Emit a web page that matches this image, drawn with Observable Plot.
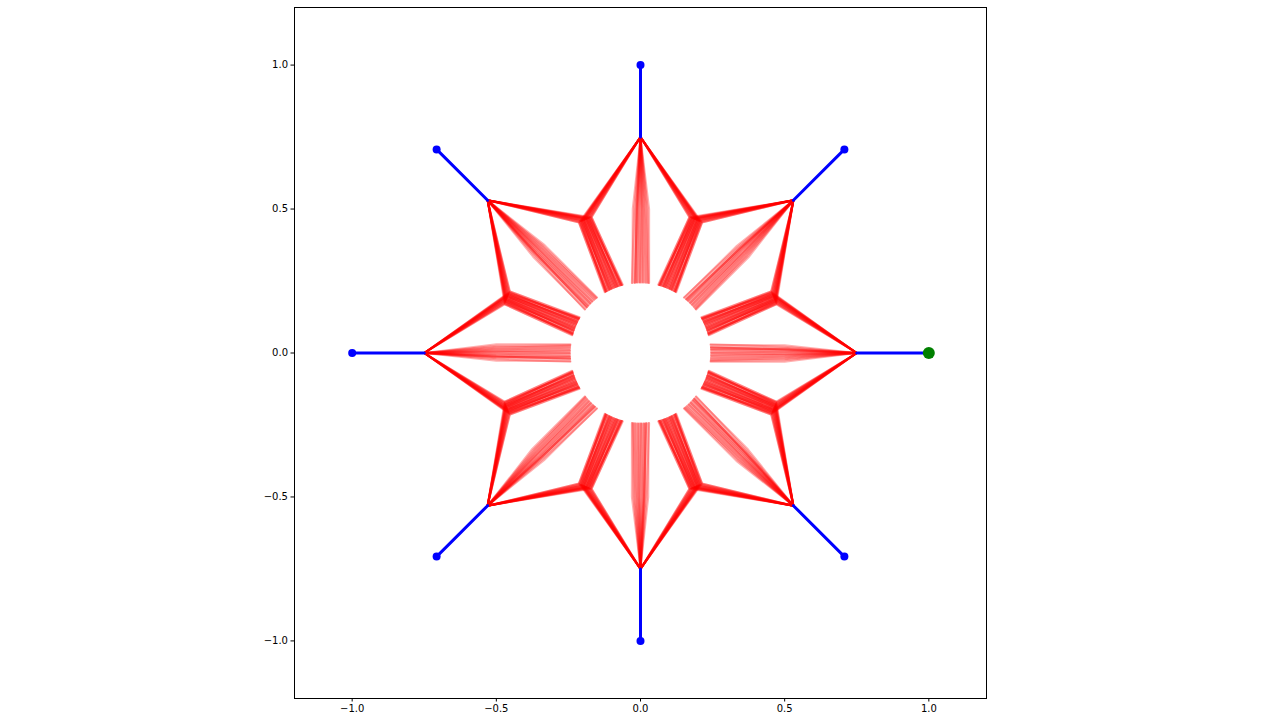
<!DOCTYPE html>
<html>
<head>
<meta charset="utf-8">
<script src="https://cdn.jsdelivr.net/npm/d3@7"></script>
<script src="https://cdn.jsdelivr.net/npm/@observablehq/plot@0.6"></script>
<style>
  html, body { margin: 0; padding: 0; background: white; }
  #chart { width: 1280px; height: 720px; }
</style>
</head>
<body>
<div id="chart"></div>
<script>
// ---- data ----
const anchorAngles = [0, 45, 90, 135, 180, 225, 270, 315];   // degrees
const rAnchor = 1.0;      // blue dots
const rOuter = 0.75;      // outer star vertices
const rMid = 0.5;         // inner star vertices
const rHole = 0.245;      // where trajectories end
const sideAngle = 22.5;   // angular offset of inner star vertices
const xTicks = [-1.0, -0.5, 0.0, 0.5, 1.0];
const yTicks = [-1.0, -0.5, 0.0, 0.5, 1.0];
const goal = {x: 1.0, y: 0.0};

// hand-read lateral spreads of the trajectory bundles (plot units)
const spokeMidOffsets = [-0.018, 0.012, -0.006, 0.022, -0.030, 0.003, 0.015, -0.012, 0.008, -0.022, 0.027, -0.002, 0.010, -0.015, 0.018, -0.009, 0.004, -0.025, 0.013, -0.004];
const spokeEndOffsets = [-0.025, 0.020, -0.010, 0.030, -0.030, 0.005, 0.015, -0.018, 0.010, -0.022, 0.028, -0.004, 0.012, -0.015, 0.022, -0.008, 0.002, -0.028, 0.018, 0.000];
const sideMidOffsets  = [0.008, -0.012, 0.016, -0.004, 0.020, -0.018, 0.002, 0.012, -0.008, 0.024, -0.022, 0.006, 0.014, -0.014, 0.000, 0.018, -0.006, 0.010, -0.024, 0.004];
const sideEndOffsets  = [0.018, -0.022, 0.030, -0.008, 0.026, -0.030, 0.004, 0.014, -0.016, 0.034, -0.026, 0.010, 0.022, -0.012, 0.000, 0.028, -0.004, 0.016, -0.032, 0.008];

// ---- build geometry ----
const rad = d => d * Math.PI / 180;
function polar(r, deg, lat = 0) {
  const a = rad(deg);
  return {x: r * Math.cos(a) - lat * Math.sin(a), y: r * Math.sin(a) + lat * Math.cos(a)};
}

const paths = [];
let pid = 0;
anchorAngles.forEach(a => {
  const v = polar(rOuter, a);
  // straight spoke toward the hole
  spokeMidOffsets.forEach((m, i) => {
    const id = pid++;
    const mid = polar(rMid, a, m);
    const endA = a + Math.asin(spokeEndOffsets[i] / rHole) * 180 / Math.PI;
    const end = polar(rHole, endA);
    [v, mid, end].forEach(p => paths.push({id, ...p}));
  });
  // two side paths through inner star vertices
  [-1, 1].forEach(s => {
    const sa = a + s * sideAngle;
    sideMidOffsets.forEach((m, i) => {
      const id = pid++;
      const mid = polar(rMid, sa, m * s);
      const endA = sa + Math.asin(sideEndOffsets[i] * s / rHole) * 180 / Math.PI;
      const end = polar(rHole, endA);
      [v, mid, end].forEach(p => paths.push({id, ...p}));
    });
  });
});

const arms = [];
anchorAngles.forEach((a, i) => {
  arms.push({id: i, ...polar(rAnchor, a)});
  arms.push({id: i, ...polar(rOuter, a)});
});
const anchors = anchorAngles.filter(a => a !== 0).map(a => polar(rAnchor, a));

const fmt = d => d.toFixed(1).replace("-", "\u2212");

const chart = Plot.plot({
  width: 1280,
  height: 720,
  marginLeft: 294,
  marginRight: 294,
  marginTop: 7,
  marginBottom: 22,
  x: {domain: [-1.2, 1.2]},
  y: {domain: [-1.2, 1.2]},
  style: {fontFamily: "DejaVu Sans", fontSize: "10px", color: "black", background: "white"},
  marks: [
    Plot.line(paths, {x: "x", y: "y", z: "id", stroke: "red", strokeWidth: 2, strokeOpacity: 0.3}),
    Plot.line(arms, {x: "x", y: "y", z: "id", stroke: "blue", strokeWidth: 3}),
    Plot.dot(anchors, {x: "x", y: "y", r: 4, fill: "blue"}),
    Plot.dot([goal], {x: "x", y: "y", r: 6, fill: "green"}),
    Plot.frame({stroke: "black", strokeWidth: 1}),
    Plot.axisX({ticks: xTicks, tickFormat: fmt, tickSize: 3.5, tickPadding: 3, label: null}),
    Plot.axisY({ticks: yTicks, tickFormat: fmt, tickSize: 3.5, tickPadding: 3, label: null})
  ]
});
document.getElementById("chart").appendChild(chart);
</script>
</body>
</html>
